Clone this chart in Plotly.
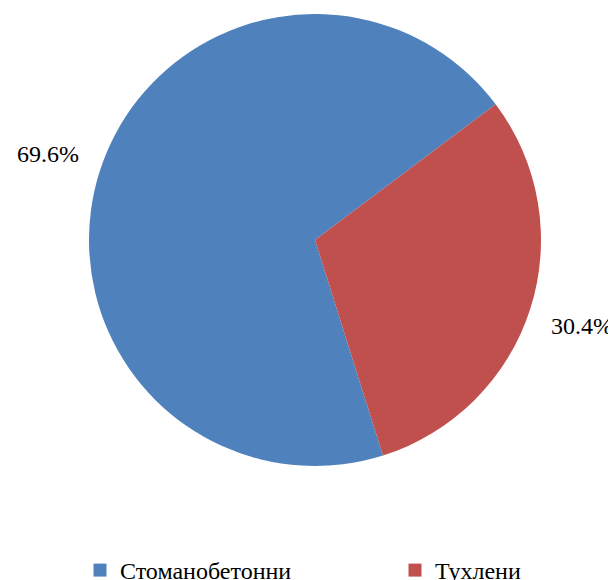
import math
import plotly.graph_objects as go

labels = ["Стоманобетонни", "Тухлени"]
values = [69.6, 30.4]
colors = ["#4F81BD", "#C0504D"]

W, H = 616, 580
OFF = 8  # page body margin offset in the browser
ROT = 162.5
FONT = "Liberation Serif, Times New Roman, serif"
FS = 24

dom_x = [(89 - OFF) / W, (541 - OFF) / W]
dom_y = [1 - (466 - OFF) / H, 1 - (14 - OFF) / H]

fig = go.Figure()
fig.add_trace(go.Pie(
    labels=labels,
    values=values,
    marker=dict(colors=colors, line=dict(color="white", width=0)),
    sort=False,
    direction="clockwise",
    rotation=ROT,
    textinfo="none",
    domain=dict(x=dom_x, y=dom_y),
    showlegend=False,
    hoverinfo="label+percent",
))

# legend entries as separate dummy traces so each can be placed independently
for i, (lab, col) in enumerate(zip(labels, colors)):
    fig.add_trace(go.Scatter(
        x=[None], y=[None], mode="markers", name=lab,
        marker=dict(symbol="square", size=13, color=col),
        legend="legend" if i == 0 else "legend2",
        showlegend=True,
    ))

# percentage labels placed outside each slice at its mid-angle
cx = (dom_x[0] + dom_x[1]) / 2 * W
cy = (1 - (dom_y[0] + dom_y[1]) / 2) * H
R_lab = 280
total = sum(values)
start = ROT
for val in values:
    span = val / total * 360
    mid = math.radians(start + span / 2)
    px = cx + R_lab * math.sin(mid)
    py = cy - R_lab * math.cos(mid)
    fig.add_annotation(
        x=px / W, y=1 - py / H, xref="paper", yref="paper",
        text=f"{val / total * 100:.1f}%", showarrow=False,
        font=dict(family=FONT, size=FS, color="black"),
        xanchor="center", yanchor="middle",
    )
    start += span

LEG_TOP = 548
fig.update_layout(
    width=W, height=H,
    margin=dict(l=0, r=0, t=0, b=0, autoexpand=False),
    paper_bgcolor="white",
    plot_bgcolor="white",
    font=dict(family=FONT, size=FS, color="black"),
    xaxis=dict(visible=False),
    yaxis=dict(visible=False),
    legend=dict(
        orientation="h", x=(80 - OFF) / W, xanchor="left",
        y=1 - (LEG_TOP - OFF) / H, yanchor="top",
        font=dict(family=FONT, size=FS, color="black"),
        bgcolor="rgba(0,0,0,0)",
    ),
    legend2=dict(
        orientation="h", x=(395 - OFF) / W, xanchor="left",
        y=1 - (LEG_TOP - OFF) / H, yanchor="top",
        font=dict(family=FONT, size=FS, color="black"),
        bgcolor="rgba(0,0,0,0)",
    ),
)

fig.write_html("out.html")
